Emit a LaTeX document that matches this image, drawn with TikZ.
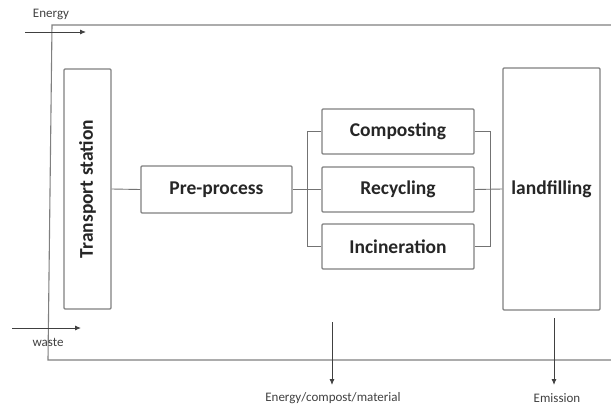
\documentclass[tikz,border=0pt]{standalone}
\usepackage{fontspec}
\setmainfont{Carlito}
\usetikzlibrary{arrows.meta}
\begin{document}
\begin{tikzpicture}[x=1pt,y=-1pt,
  box/.style={draw=black!50,line width=1.1pt,rounded corners=1pt,fill=white,inner sep=0pt,
    font=\bfseries\fontsize{19.5}{22}\selectfont,text=black!85},
  link/.style={draw=black!55,line width=0.9pt},
  flow/.style={draw=black!75,line width=0.9pt,-{Latex[length=6pt,width=5pt]}},
  lbl/.style={font=\fontsize{13}{15}\selectfont,text=black!75,inner sep=0pt}]
\useasboundingbox (0,0) rectangle (611,407);
% outer frame
\draw[link,line width=1.1pt,draw=black!50] (611,25) -- (52,25) -- (48,360) -- (611,360);
% boxes
\node[box,minimum width=47pt,minimum height=240pt] (ts) at (87.5,189) {};
\node[rotate=90,font=\bfseries\fontsize{19.5}{22}\selectfont,text=black!85] (tst) at (ts.center) {Transport station};
\node[box,minimum width=151pt,minimum height=47pt] (pre) at (216.5,189.5) {Pre-process};
\node[box,minimum width=152pt,minimum height=45pt] (comp) at (398,131.5) {Composting};
\node[box,minimum width=152pt,minimum height=45pt] (rec) at (398,189.5) {Recycling};
\node[box,minimum width=152pt,minimum height=45pt] (inc) at (398,246.5) {Incineration};
\node[box,minimum width=97pt,minimum height=242pt] (land) at (551.5,189) {landfilling};
% connectors
\coordinate (lb) at (307,189.5);
\coordinate (rb) at (490,189.5);
\draw[link] (ts.east) -- (pre.west);
\draw[link] (pre.east) -- (rec.west);
\draw[link] (comp.west) -| (lb);
\draw[link] (inc.west) -| (lb);
\draw[link] (comp.east) -| (rb);
\draw[link] (inc.east) -| (rb);
\draw[link] (rec.east) -- (land.west);
% flows
\coordinate (e1) at (25,32); \coordinate (e2) at (86,32);
\coordinate (w1) at (12,328); \coordinate (w2) at (81,328);
\coordinate (o1) at (332,322); \coordinate (o2) at (332,385);
\coordinate (m1) at (554,318); \coordinate (m2) at (554,385);
\draw[flow] (e1) -- (e2);
\draw[flow] (w1) -- (w2);
\draw[flow] (o1) -- (o2);
\draw[flow] (m1) -- (m2);
\node[lbl] (energy) at (51,14) {Energy};
\node[lbl] (waste) at (48,342) {waste};
\node[lbl] (out) at (333,398) {Energy/compost/material};
\node[lbl] (emis) at (557,398) {Emission};
\end{tikzpicture}
\end{document}
